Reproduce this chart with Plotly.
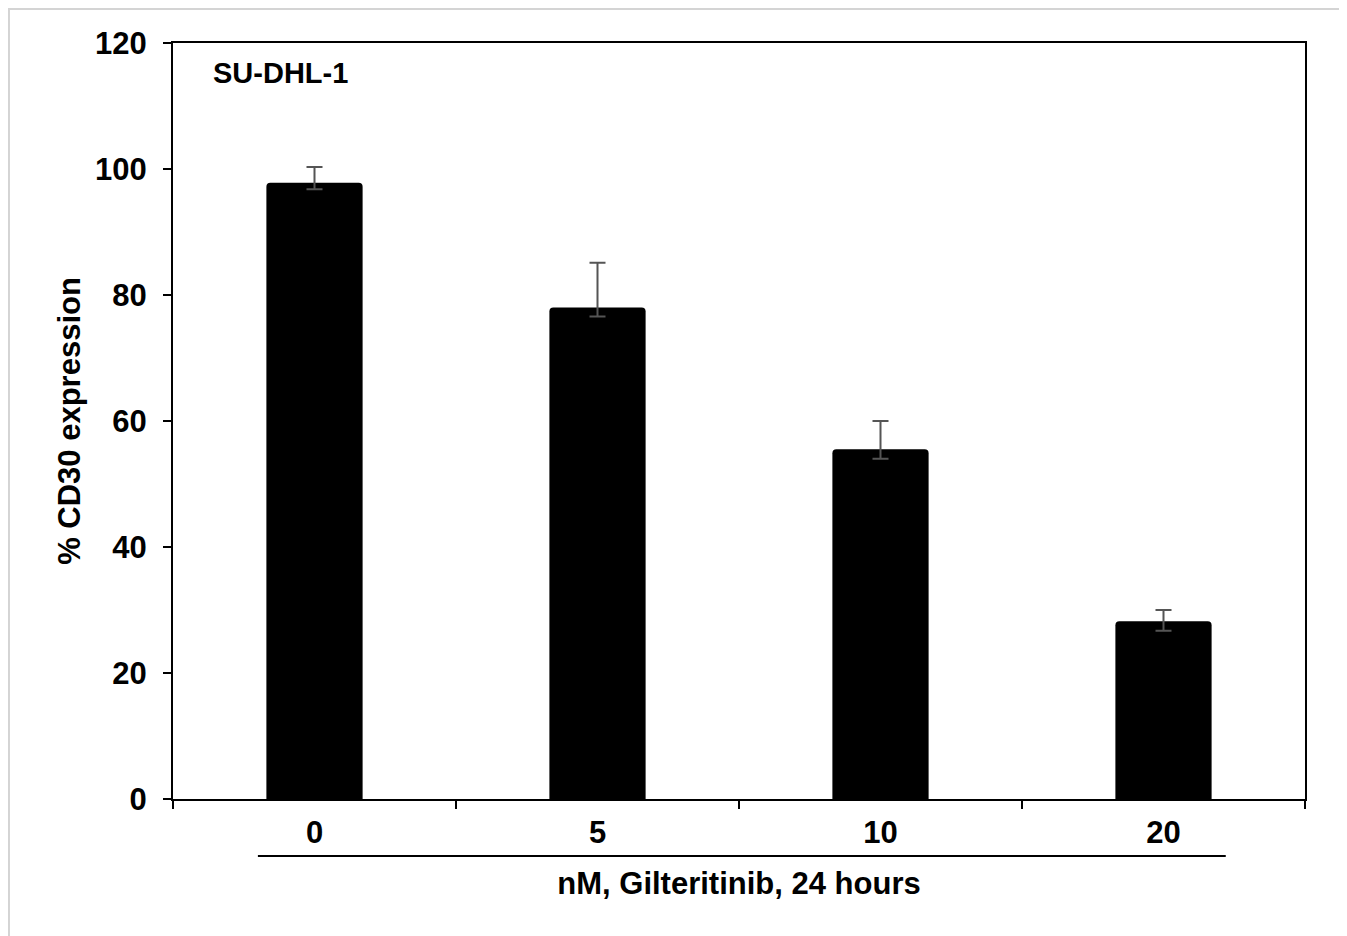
import plotly.graph_objects as go

categories = ["0", "5", "10", "20"]
cd30_expression = [97.8, 78.0, 55.5, 28.2]
err_plus = [2.5, 7.1, 4.5, 1.8]
err_minus = [1.0, 1.4, 1.5, 1.5]
y_ticks = [0, 20, 40, 60, 80, 100, 120]

FONT = dict(family="Liberation Sans, Arial, sans-serif", size=31, color="black", weight="bold")
FONT_SMALL = dict(family="Liberation Sans, Arial, sans-serif", size=29, color="black", weight="bold")

fig = go.Figure()
fig.add_trace(go.Bar(
    x=categories,
    y=cd30_expression,
    width=0.34,
    marker=dict(color="black", line=dict(width=0)),
    error_y=dict(type="data", symmetric=False, array=err_plus, arrayminus=err_minus,
                 color="#555555", thickness=2, width=8),
))

fig.update_layout(
    width=1339, height=928,
    margin=dict(l=165, r=42, t=35, b=137),
    paper_bgcolor="white", plot_bgcolor="white",
    showlegend=False,
    barcornerradius=4,
    font=FONT,
    xaxis=dict(
        type="category", categoryorder="array", categoryarray=categories,
        showline=True, linecolor="black", linewidth=2, mirror=True,
        ticks="outside", tickson="boundaries", ticklen=8, tickwidth=2, tickcolor="black",
        ticklabelstandoff=5,
        showgrid=False, zeroline=False,
        tickfont=FONT,
        title=dict(text="nM, Gilteritinib, 24 hours", font=FONT, standoff=23),
    ),
    yaxis=dict(
        range=[0, 120], tickvals=y_ticks,
        showline=True, linecolor="black", linewidth=2, mirror=True,
        ticks="outside", ticklen=8, tickwidth=2, tickcolor="black",
        ticklabelstandoff=10,
        showgrid=False, zeroline=False,
        tickfont=FONT,
        title=dict(text="% CD30 expression", font=FONT, standoff=5),
    ),
)

fig.add_annotation(text="SU-DHL-1", xref="paper", yref="paper", x=0.034, y=0.96,
                   xanchor="left", yanchor="middle", showarrow=False, font=FONT_SMALL)

# underline below category labels
fig.add_shape(type="line", xref="x", yref="paper", x0=-0.2, x1=3.22, y0=-0.0754, y1=-0.0754,
              line=dict(color="black", width=2))
# light frame around figure
fig.add_shape(type="rect", xref="paper", yref="paper", x0=-0.1449, x1=1.0318, y0=-0.2, y1=1.045,
              line=dict(color="#d4d4d4", width=2), layer="below")

fig.write_html("out.html")
